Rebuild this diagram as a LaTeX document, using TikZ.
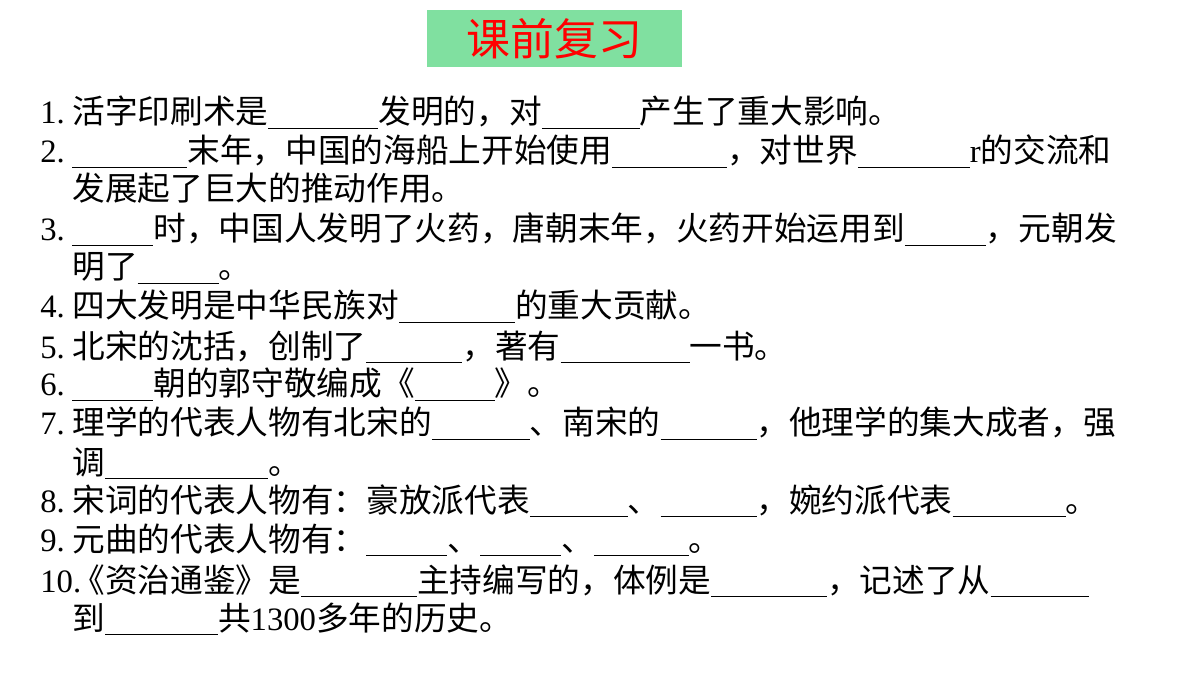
\documentclass[tikz,border=0pt]{standalone}
\usepackage{fontspec}
\setmainfont{Liberation Serif}
\newfontfamily\cjk{Noto Sans CJK SC}
\newlength\unitpx
\setlength\unitpx{0.02cm}
\definecolor{titlegreen}{RGB}{128,224,160}
\newcommand\blank[1]{\rule[-3pt]{#1\unitpx}{0.6pt}}
\newcommand\qnum[1]{\makebox[32\unitpx][l]{#1}}
\tikzset{
  line/.style={anchor=base west,inner sep=0pt,font=\fontsize{18.6}{22}\selectfont},
  titlebox/.style={fill=titlegreen,text=red,minimum width=255\unitpx,minimum height=57\unitpx,font=\cjk\fontsize{25}{28}\selectfont}
}
\begin{document}
\begin{tikzpicture}[x=\unitpx,y=-\unitpx]
	\useasboundingbox (0,0) rectangle (1200,675);
	% title
	\node[titlebox] (title) at (554.5,38.5) {课前复习};
	% questions
	\node[line] (l1) at (40,124) {\qnum{1.}{\cjk 活字印刷术是}\blank{110}{\cjk 发明的，对}\blank{98}{\cjk 产生了重大影响。}};
	\node[line] (l2) at (40,163) {\qnum{2.}\blank{115}{\cjk 末年，中国的海船上开始使用}\blank{115}{\cjk ，对世界}\blank{112}r{\cjk 的交流和}};
	\node[line] (l2b) at (72,201) {\cjk 发展起了巨大的推动作用。};
	\node[line] (l3) at (40,241) {\qnum{3.}\blank{81}{\cjk 时，中国人发明了火药，唐朝末年，火药开始运用到}\blank{81}{\cjk ，元朝发}};
	\node[line] (l3b) at (72,279) {{\cjk 明了}\blank{81}{\cjk 。}};
	\node[line] (l4) at (40,318) {\qnum{4.}{\cjk 四大发明是中华民族对}\blank{116}{\cjk 的重大贡献。}};
	\node[line] (l5) at (40,358) {\qnum{5.}{\cjk 北宋的沈括，创制了}\blank{96}{\cjk ，著有}\blank{129}{\cjk 一书。}};
	\node[line] (l6) at (40,396) {\qnum{6.}\blank{81}{\cjk 朝的郭守敬编成《}\blank{80}{\cjk 》。}};
	\node[line] (l7) at (40,435) {\qnum{7.}{\cjk 理学的代表人物有北宋的}\blank{98}{\cjk 、南宋的}\blank{96}{\cjk ，他理学的集大成者，强}};
	\node[line] (l7b) at (72,474) {{\cjk 调}\blank{163}{\cjk 。}};
	\node[line] (l8) at (40,512) {\qnum{8.}{\cjk 宋词的代表人物有：豪放派代表}\blank{98}{\cjk 、}\blank{96}{\cjk ，婉约派代表}\blank{113}{\cjk 。}};
	\node[line] (l9) at (40,551) {\qnum{9.}{\cjk 元曲的代表人物有：}\blank{81}{\cjk 、}\blank{81}{\cjk 、}\blank{95}{\cjk 。}};
	\node[line] (l10) at (40,592) {\qnum{10.}{\cjk 《资治通鉴》是}\blank{116}{\cjk 主持编写的，体例是}\blank{116}{\cjk ，记述了从}\blank{98}};
	\node[line] (l10b) at (72,630) {{\cjk 到}\blank{113}{\cjk 共}1300{\cjk 多年的历史。}};
\end{tikzpicture}
\end{document}
